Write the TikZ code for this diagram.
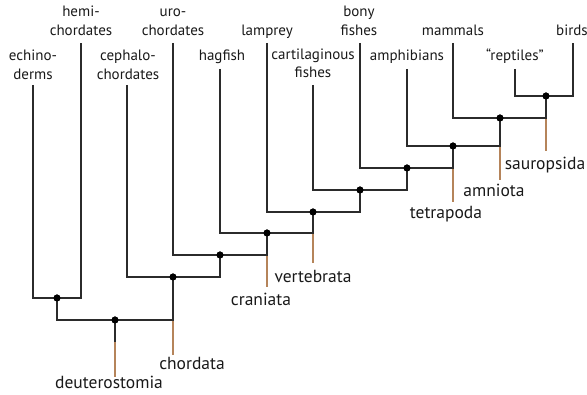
\documentclass[tikz,border=0pt]{standalone}
\usepackage{fontspec}
\setmainfont{PT Sans}
\definecolor{linec}{HTML}{2B2B2B}
\definecolor{stemc}{HTML}{B5845A}
\begin{document}
\begin{tikzpicture}[x=1pt,y=-1pt,
  branch/.style={draw=linec,line width=1.4pt},
  stem/.style={draw=stemc,line width=1.4pt},
  dot/.style={circle,fill=black,inner sep=0pt,minimum size=7pt},
  tiplab/.style={anchor=base,inner sep=0pt,font=\fontsize{15}{18}\selectfont,text=black!90},
  cladelab/.style={anchor=base,inner sep=0pt,font=\fontsize{17.5}{21}\selectfont,text=black!90}]
\useasboundingbox (0,0) rectangle (587,395);
% tips
\coordinate (tE) at (33,85);
\coordinate (tH) at (81,43);
\coordinate (tC) at (127,85);
\coordinate (tU) at (173,43);
\coordinate (tHa) at (220,69);
\coordinate (tL) at (267,43);
\coordinate (tCa) at (313,85);
\coordinate (tB) at (360,43);
\coordinate (tA) at (407,69);
\coordinate (tM) at (453,43);
\coordinate (tR) at (515,69);
\coordinate (tBi) at (573,43);
% internal nodes
\node[dot] (n1) at (57,298) {};
\node[dot] (n2) at (115,320) {};
\node[dot] (n3) at (173,277) {};
\node[dot] (n4) at (220,255) {};
\node[dot] (n5) at (267,233) {};
\node[dot] (n6) at (313,212) {};
\node[dot] (n7) at (360,190) {};
\node[dot] (n8) at (407,168) {};
\node[dot] (n9) at (453,146) {};
\node[dot] (n10) at (500,118) {};
\node[dot] (n11) at (546,96) {};
% stems
\coordinate (sD1) at (115,342);
\coordinate (sD2) at (115,377);
\coordinate (sCh1) at (173,320);
\coordinate (sCh2) at (173,355);
\coordinate (sCr1) at (267,255);
\coordinate (sCr2) at (267,287);
\coordinate (sV1) at (313,233);
\coordinate (sV2) at (313,263);
\coordinate (sT1) at (453,168);
\coordinate (sT2) at (453,202);
\coordinate (sA1) at (500,146);
\coordinate (sA2) at (500,180);
\coordinate (sS1) at (546,118);
\coordinate (sS2) at (546,151);
\draw[stem] (sD1) -- (sD2);
\draw[stem] (sCh1) -- (sCh2);
\draw[stem] (sCr1) -- (sCr2);
\draw[stem] (sV1) -- (sV2);
\draw[stem] (sT1) -- (sT2);
\draw[stem] (sA1) -- (sA2);
\draw[stem] (sS1) -- (sS2);
\draw[branch] (n2.center) -- (sD1);
% branches
\draw[branch] (tE) |- (n1.center) -| (tH);
\draw[branch] (n1.center) |- (n2.center) -| (n3.center);
\draw[branch] (tC) |- (n3.center) -| (n4.center);
\draw[branch] (tU) |- (n4.center) -| (n5.center);
\draw[branch] (tHa) |- (n5.center) -| (n6.center);
\draw[branch] (tL) |- (n6.center) -| (n7.center);
\draw[branch] (tCa) |- (n7.center) -| (n8.center);
\draw[branch] (tB) |- (n8.center) -| (n9.center);
\draw[branch] (tA) |- (n9.center) -| (n10.center);
\draw[branch] (tM) |- (n10.center) -| (n11.center);
\draw[branch] (tR) |- (n11.center) -| (tBi);
% redraw dots on top
\foreach \n in {n1,n2,n3,n4,n5,n6,n7,n8,n9,n10,n11}
  \fill (\n) circle (3.5pt);
% tip labels
\node[tiplab] (lE1) at (33,61) {echino-};
\node[tiplab] (lE2) at (33,80) {derms};
\node[tiplab] (lH1) at (81,17) {hemi-};
\node[tiplab] (lH2) at (81,36) {chordates};
\node[tiplab] (lC1) at (128,61) {cephalo-};
\node[tiplab] (lC2) at (128,80) {chordates};
\node[tiplab] (lU1) at (173,17) {uro-};
\node[tiplab] (lU2) at (173,36) {chordates};
\node[tiplab] (lHa) at (222,61) {hagfish};
\node[tiplab] (lL) at (267,36) {lamprey};
\node[tiplab] (lCa1) at (313,60) {cartilaginous};
\node[tiplab] (lCa2) at (313,78) {fishes};
\node[tiplab] (lB1) at (359,17) {bony};
\node[tiplab] (lB2) at (359,36) {fishes};
\node[tiplab] (lA) at (407,61) {amphibians};
\node[tiplab] (lM) at (453,36) {mammals};
\node[tiplab] (lR) at (515,61) {“reptiles”};
\node[tiplab] (lBi) at (572,36) {birds};
% clade labels
\node[cladelab] (cD) at (109,389) {deuterostomia};
\node[cladelab] (cCh) at (192,370) {chordata};
\node[cladelab] (cCr) at (261,306) {craniata};
\node[cladelab] (cV) at (313,283) {vertebrata};
\node[cladelab] (cT) at (446,219) {tetrapoda};
\node[cladelab] (cA) at (494,197) {amniota};
\node[cladelab] (cS) at (545,170) {sauropsida};
\end{tikzpicture}
\end{document}
